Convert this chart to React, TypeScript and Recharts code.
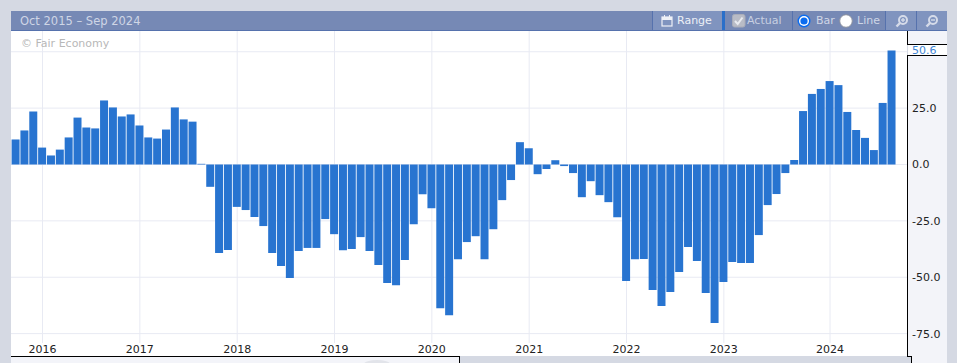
import React from "react";
import { BarChart, Bar, XAxis, YAxis, CartesianGrid } from "recharts";

const barValues = [
  11.1, 15.1, 23.5, 7.5, 4, 6.6, 12, 20.8, 16.4, 16, 28.4, 25.3, 21.3, 22.2, 17.3, 12, 11.5, 15.5, 25.3, 20, 19,
  0.3, -9.9, -39.2, -37.9, -18.8, -20.2, -23.3, -27.3, -39.2, -45, -50.3, -38.4, -37, -37,
  -24.2, -30.9, -38, -37.5, -32.2, -38.4, -44.6, -52.6, -53.5, -42.4,
  -26.5, -13.2, -19.4, -63.7, -66.8, -42, -34.4, -31.8, -42, -28.7,
  -15.8, -6.9, 9.9, 7.2, -4.3, -2, 1.9, -0.7, -3.8, -14.5,
  -7.4, -13.6, -16.7, -23.4, -51.7, -42,
  -41.9, -55.7, -62.8, -56.5, -47.7, -36.6, -42.8, -57, -70.3, -52.1,
  -43.2, -43.7, -43.7, -31.3, -18, -13.1, -3.8, 2, 23.7, 31.3,
  33.5, 37, 35.2, 23.3, 15.3, 11.8, 6.4, 27.3, 50.6,
];
const yearLabels = ["2016", "2017", "2018", "2019", "2020", "2021", "2022", "2023", "2024"];
const yearPositions = [3, 14, 25, 36, 47, 58, 69, 80, 92];
const gridValues = [-75, -50, -25, 0, 25, 50];
const axisTicks = [-75, -50, -25, 0, 25, 50.6];
const latestValue = 50.6;
const rangeTitle = "Oct 2015 – Sep 2024";

const table = barValues.map((value, i) => ({ i, value }));
const FONT = "'DejaVu Sans', sans-serif";
const GRID = "#e8eaf3";
const TINT = "#f3f4f9";
const OUTER = "#d5d9e3";

const box = (left: number, top: number, width: number, height: number, background: string): React.CSSProperties => ({
  position: "absolute",
  left,
  top,
  width,
  height,
  background,
});

const label = (left: number, color: string, text: string, size = 11) => (
  <div
    style={{
      position: "absolute",
      left,
      top: 11,
      height: 19,
      lineHeight: "20px",
      color,
      fontFamily: FONT,
      fontSize: size,
      whiteSpace: "nowrap",
    }}
  >
    {text}
  </div>
);

const YTick = (props: any) => {
  const { x, y, payload } = props;
  const isLatest = payload.value === latestValue;
  return (
    <text
      x={x - 3}
      y={y + 4}
      textAnchor="start"
      fontFamily={FONT}
      fontSize={11}
      fill={isLatest ? "#3f86d6" : "#222"}
    >
      {payload.value.toFixed(1)}
    </text>
  );
};

const XTick = (props: any) => {
  const { x, y, payload } = props;
  return (
    <text x={x} y={y + 2} textAnchor="middle" fontFamily={FONT} fontSize={11} fill="#222">
      {yearLabels[yearPositions.indexOf(payload.value)]}
    </text>
  );
};

const Magnifier = ({ left, plus }: { left: number; plus: boolean }) => (
  <svg style={{ position: "absolute", left, top: 14 }} width={14} height={14}>
    <circle cx={8} cy={6} r={4} fill="none" stroke="#d5dbe9" strokeWidth={2} />
    <line x1={5} y1={9} x2={1.5} y2={12.5} stroke="#d5dbe9" strokeWidth={2.4} />
    <line x1={6} y1={6} x2={10} y2={6} stroke="#d5dbe9" strokeWidth={1.4} />
    {plus && <line x1={8} y1={4} x2={8} y2={8} stroke="#d5dbe9" strokeWidth={1.4} />}
  </svg>
);

export default function App() {
  return (
    <div style={{ position: "fixed", left: 0, top: 0, width: 957, height: 363, overflow: "hidden", background: OUTER }}>
      <div style={box(11, 31, 896, 325, "#fff")} />
      <div style={box(908, 31, 39, 332, TINT)} />
      <div style={box(908, 45, 39, 10, "#fff")} />
      <div style={box(11, 357, 448, 6, TINT)} />
      <svg style={{ position: "absolute", left: 360, top: 358 }} width={34} height={5}>
        <ellipse cx={17} cy={6} rx={13} ry={4} fill="#e2e4ea" />
      </svg>

      <div style={{ position: "absolute", left: 0, top: 0 }}>
        <BarChart
          width={957}
          height={363}
          data={table}
          margin={{ top: 31, right: 10, bottom: 7, left: 11 }}
          barCategoryGap={0}
        >
          <CartesianGrid stroke={GRID} strokeWidth={1} horizontalValues={gridValues} verticalValues={yearPositions} />
          <XAxis
            dataKey="i"
            type="number"
            domain={[-0.565, 100.7]}
            allowDataOverflow
            ticks={yearPositions}
            interval={0}
            height={13}
            axisLine={false}
            tickLine={false}
            tick={<XTick />}
          />
          <YAxis
            orientation="right"
            type="number"
            domain={[-79.16, 59.2]}
            allowDataOverflow
            ticks={axisTicks}
            interval={0}
            width={40}
            axisLine={false}
            tickLine={false}
            tick={<YTick />}
          />
          <Bar dataKey="value" fill="#2874d0" barSize={8} isAnimationActive={false} />
        </BarChart>
      </div>

      {/* frame lines */}
      <div style={box(11, 356, 448, 1, "#000")} />
      <div style={box(459, 356, 1, 7, "#000")} />
      <div style={box(460, 356, 447, 7, OUTER)} />
      <div style={box(907, 31, 1, 14, "#000")} />
      <div style={box(907, 44, 40, 1, "#000")} />
      <div style={box(907, 55, 40, 1, "#000")} />
      <div style={box(907, 55, 1, 302, "#000")} />
      <div style={box(907, 356, 5, 1, "#000")} />
      <div style={box(911, 356, 1, 7, "#000")} />
      <div style={box(908, 357, 3, 6, OUTER)} />

      {/* header */}
      <div style={box(11, 11, 936, 19, "#7689b5")} />
      <div style={box(11, 30, 936, 1, "#5672ad")} />
      <div style={box(653, 11, 69, 19, "#8094bf")} />
      <div style={box(885, 11, 62, 19, "#8094bf")} />
      <div style={box(652, 11, 1, 19, "#5672ad")} />
      <div style={box(722, 11, 3, 19, "#2a6fc9")} />
      <div style={box(792, 11, 1, 19, "#5672ad")} />
      <div style={box(885, 11, 1, 19, "#5672ad")} />
      <div style={box(916, 11, 1, 19, "#5672ad")} />
      {label(20, "#cfd6e6", rangeTitle, 11.5)}
      <svg style={{ position: "absolute", left: 661, top: 14 }} width={13} height={13}>
        <rect x={1} y={3} width={10} height={9} fill="none" stroke="#eef1f7" strokeWidth={1.2} />
        <rect x={1} y={3} width={10} height={3} fill="#eef1f7" />
        <line x1={3.5} y1={1} x2={3.5} y2={4} stroke="#eef1f7" />
        <line x1={8.5} y1={1} x2={8.5} y2={4} stroke="#eef1f7" />
      </svg>
      {label(677, "#edf0f6", "Range")}
      <svg style={{ position: "absolute", left: 732, top: 14 }} width={14} height={14}>
        <rect x={0.5} y={0.5} width={12.5} height={12.5} rx={2} fill="#b9bcc6" stroke="#a9adb9" />
        <path d="M3 7 L5.7 10 L10.5 3.5" fill="none" stroke="#e9ebf0" strokeWidth={2} />
      </svg>
      {label(747, "#c7cfe1", "Actual")}
      <svg style={{ position: "absolute", left: 797, top: 14 }} width={14} height={14}>
        <circle cx={7} cy={7} r={6.5} fill="#0b6cf0" />
        <circle cx={7} cy={7} r={5} fill="#fff" />
        <circle cx={7} cy={7} r={3.6} fill="#0b6cf0" />
      </svg>
      {label(816, "#cfd6e6", "Bar")}
      <svg style={{ position: "absolute", left: 839, top: 14 }} width={14} height={14}>
        <circle cx={7} cy={7} r={6.3} fill="#fff" stroke="#8a8f9c" />
      </svg>
      {label(857, "#cfd6e6", "Line")}
      <Magnifier left={895} plus />
      <Magnifier left={925} plus={false} />

      <div
        style={{
          position: "absolute",
          left: 21,
          top: 37,
          color: "#b8b8b8",
          fontFamily: FONT,
          fontSize: 11,
          lineHeight: "14px",
          whiteSpace: "nowrap",
        }}
      >
        © Fair Economy
      </div>
    </div>
  );
}
